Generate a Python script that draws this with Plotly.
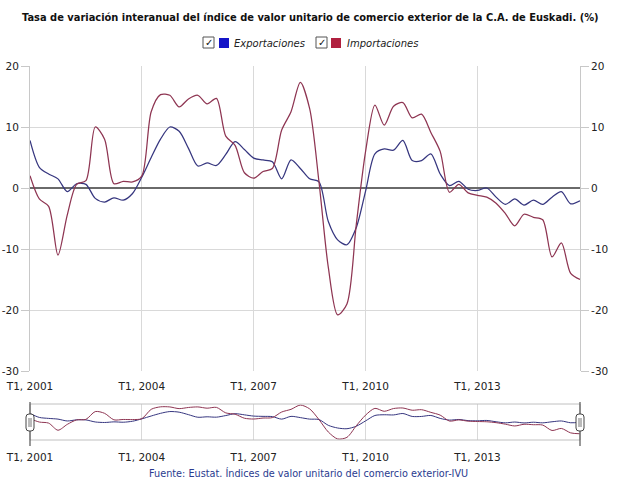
import plotly.graph_objects as go

# ---------------- data ----------------
years = list(range(2001, 2016))
quarters = [f"T{q}, {y}" for y in years for q in (1, 2, 3, 4)]

exportaciones = [
    7.8, 3.4, 2.3, 1.5, -0.6, 0.7, 0.6, -1.7, -2.3, -1.6, -2.0, -0.9,
    1.8, 5.0, 8.0, 10.0, 9.3, 6.5, 3.6, 4.1, 3.7, 5.5, 7.6, 6.3,
    4.9, 4.6, 4.3, 1.5, 4.6, 3.2, 1.5, 1.0, -5.5, -8.5, -9.3, -6.5,
    -0.5, 5.6, 6.4, 6.2, 7.8, 4.5, 4.5, 5.6, 2.3, 0.4, 1.1, -0.2,
    -0.4, 0.0, -1.5, -2.7, -1.8, -2.8, -2.0, -2.7, -1.5, -0.6, -2.6, -2.1,
]
importaciones = [
    2.0, -1.8, -3.0, -11.0, -4.4, 0.6, 1.2, 10.0, 8.0, 0.7, 1.1, 1.0,
    2.0, 12.5, 15.3, 15.2, 13.3, 14.6, 15.2, 13.8, 14.7, 8.5, 7.0, 2.5,
    1.6, 2.7, 3.2, 9.5, 12.5, 17.3, 13.0, 1.0, -13.0, -20.8, -19.0, -6.0,
    6.0, 13.6, 10.3, 13.4, 14.0, 11.5, 12.1, 9.1, 6.0, -0.7, 0.6, -0.8,
    -1.2, -1.5, -2.5, -4.2, -6.2, -4.3, -4.8, -5.2, -11.3, -9.0, -14.0, -15.0,
]
x_ticks = ["T1, 2001", "T1, 2004", "T1, 2007", "T1, 2010", "T1, 2013"]
y_ticks = [20, 10, 0, -10, -20, -30]
y_ticktext = ["20", "10", "0", "-10", "-20", "-30"]

title_text = "Tasa de variación interanual del índice de valor unitario de comercio exterior de la C.A. de Euskadi. (%)"
source_text = "Fuente: Eustat. Índices de valor unitario del comercio exterior-IVU"
series_names = ["Exportaciones", "Importaciones"]
line_colors = ["#36367f", "#8e3552"]
legend_colors = ["#1414c8", "#b0203f"]

W, H = 640, 485
FONT = "DejaVu Sans"

def px_x(p):
    return p / W

def px_y(p):
    return 1 - p / H

fig = go.Figure()

for name, vals, col in zip(series_names, [exportaciones, importaciones], line_colors):
    fig.add_trace(go.Scatter(x=quarters, y=vals, mode="lines", name=name,
                             line=dict(color=col, width=1.25, shape="spline", smoothing=0.8),
                             xaxis="x", yaxis="y", hoverinfo="skip"))
    fig.add_trace(go.Scatter(x=quarters, y=vals, mode="lines", name=name, showlegend=False,
                             line=dict(color=col, width=1.0, shape="spline", smoothing=0.8),
                             xaxis="x2", yaxis="y2", hoverinfo="skip"))
# invisible trace so that the right-hand axis is drawn
fig.add_trace(go.Scatter(x=quarters, y=exportaciones, mode="lines", opacity=0,
                         showlegend=False, xaxis="x", yaxis="y3", hoverinfo="skip"))

grid = "#d9d9d9"
tickfont = dict(family=FONT, size=10.5, color="#222")

xdom = [px_x(30), px_x(580)]
common_x = dict(type="category", categoryorder="array", categoryarray=quarters,
                range=[0, len(quarters) - 1], tickmode="array", tickvals=x_ticks,
                ticktext=x_ticks, showgrid=True, gridcolor=grid, gridwidth=1,
                tickfont=tickfont, ticks="", showline=False, zeroline=False,
                domain=xdom, automargin=False)

fig.update_layout(
    width=W, height=H,
    margin=dict(l=0, r=0, t=0, b=0, autoexpand=False),
    paper_bgcolor="white", plot_bgcolor="white",
    showlegend=False,
    xaxis=dict(common_x, anchor="y", ticklabelstandoff=7),
    yaxis=dict(domain=[px_y(371), px_y(66)], range=[-30, 20], tickmode="array",
               tickvals=y_ticks, ticktext=y_ticktext, showgrid=True, gridcolor=grid,
               zeroline=True, zerolinecolor="#6a6a6a", zerolinewidth=2,
               ticks="outside", ticklen=8, tickcolor="#c8c8c8",
               showline=True, linecolor="#c8c8c8", linewidth=1,
               tickfont=tickfont, anchor="x", automargin=False),
    yaxis3=dict(overlaying="y", side="right", range=[-30, 20], tickmode="array",
                tickvals=y_ticks, ticktext=y_ticktext, showgrid=False, zeroline=False,
                ticks="outside", ticklen=8, tickcolor="#c8c8c8",
                showline=True, linecolor="#c8c8c8", linewidth=1,
                tickfont=tickfont, anchor="x", automargin=False),
    xaxis2=dict(common_x, anchor="y2", ticklabelstandoff=9),
    yaxis2=dict(domain=[px_y(440), px_y(404)], range=[-22, 18.5], showgrid=False,
                zeroline=False, showticklabels=False, ticks="",
                showline=False, anchor="x2", automargin=False),
)

shapes = []
# navigator border
shapes.append(dict(type="rect", xref="paper", yref="paper",
                   x0=px_x(30), x1=px_x(580), y0=px_y(440), y1=px_y(404),
                   line=dict(color="#c0c0c0", width=1), fillcolor="rgba(0,0,0,0)"))
# navigator edge lines
for xp in (30, 580):
    shapes.append(dict(type="line", xref="paper", yref="paper",
                       x0=px_x(xp), x1=px_x(xp), y0=px_y(446), y1=px_y(402),
                       line=dict(color="#555", width=1.2)))
# handles
for xp in (30, 580):
    x0, x1 = xp - 4, xp + 4
    y0, y1 = 414, 431
    r = 3
    path = (f"M {px_x(x0 + r)} {px_y(y0)} L {px_x(x1 - r)} {px_y(y0)} "
            f"Q {px_x(x1)} {px_y(y0)} {px_x(x1)} {px_y(y0 + r)} "
            f"L {px_x(x1)} {px_y(y1 - r)} Q {px_x(x1)} {px_y(y1)} {px_x(x1 - r)} {px_y(y1)} "
            f"L {px_x(x0 + r)} {px_y(y1)} Q {px_x(x0)} {px_y(y1)} {px_x(x0)} {px_y(y1 - r)} "
            f"L {px_x(x0)} {px_y(y0 + r)} Q {px_x(x0)} {px_y(y0)} {px_x(x0 + r)} {px_y(y0)} Z")
    shapes.append(dict(type="path", xref="paper", yref="paper", path=path,
                       line=dict(color="#444", width=1), fillcolor="white"))
    for dx in (-1, 1):
        shapes.append(dict(type="line", xref="paper", yref="paper",
                           x0=px_x(xp + dx), x1=px_x(xp + dx), y0=px_y(418), y1=px_y(427),
                           line=dict(color="#777", width=1)))

annotations = [
    dict(text=f"<b>{title_text}</b>", xref="paper", yref="paper", x=px_x(310), y=px_y(18),
         showarrow=False, xanchor="center", yanchor="middle",
         font=dict(family=FONT, size=9.9, color="#111")),
    dict(text=source_text, xref="paper", yref="paper", x=px_x(308), y=px_y(473),
         showarrow=False, xanchor="center", yanchor="middle",
         font=dict(family=FONT, size=9.7, color="#2a3b8f")),
]

# custom legend with checkboxes
legend_items = [(203, 219, 232), (316, 331, 345)]
for (cbx, sqx, tx), name, col in zip(legend_items, series_names, legend_colors):
    shapes.append(dict(type="rect", xref="paper", yref="paper",
                       x0=px_x(cbx), x1=px_x(cbx + 11), y0=px_y(48), y1=px_y(37),
                       line=dict(color="#555", width=1), fillcolor="white"))
    annotations.append(dict(text="✓", xref="paper", yref="paper", x=px_x(cbx + 5.5), y=px_y(42.5),
                            showarrow=False, xanchor="center", yanchor="middle",
                            font=dict(family=FONT, size=10, color="#111")))
    shapes.append(dict(type="rect", xref="paper", yref="paper",
                       x0=px_x(sqx), x1=px_x(sqx + 10), y0=px_y(48), y1=px_y(38),
                       line=dict(width=0), fillcolor=col))
    annotations.append(dict(text=f"<i>{name}</i>", xref="paper", yref="paper", x=px_x(tx), y=px_y(43),
                            showarrow=False, xanchor="left", yanchor="middle",
                            font=dict(family=FONT, size=10, color="#222")))

fig.update_layout(shapes=shapes, annotations=annotations)

fig.write_html("out.html")
